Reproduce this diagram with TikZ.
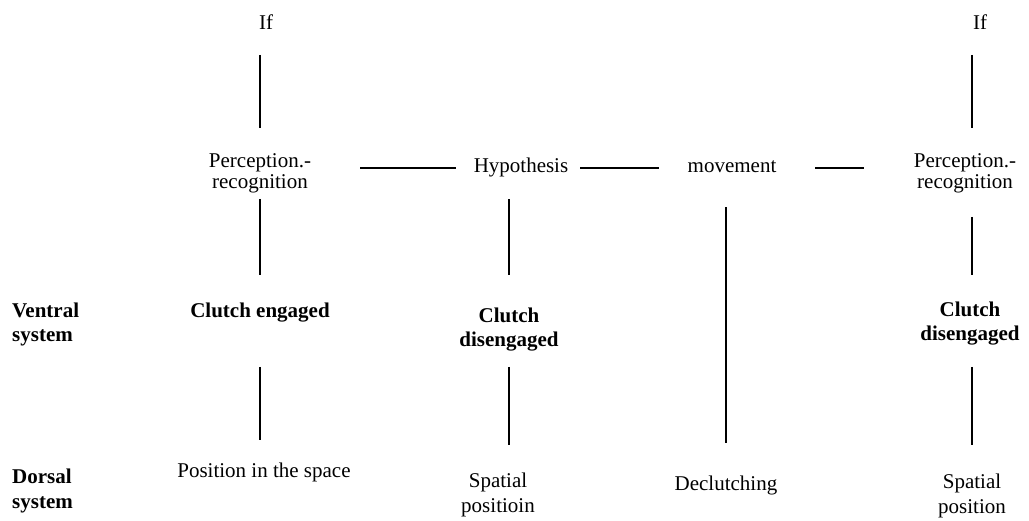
\documentclass[tikz,border=0pt]{standalone}
\usepackage{fontspec}
\setmainfont{Liberation Serif}
\begin{document}
\begin{tikzpicture}[x=1pt,y=-1pt,
  lbl/.style={anchor=base,inner sep=0pt,align=center,font=\fontsize{21}{25}\selectfont},
  tight/.style={font=\fontsize{21}{21}\selectfont},
  hd/.style={font=\fontsize{21}{24.5}\selectfont\bfseries},
  side/.style={lbl,align=left,anchor=base west},
  link/.style={line width=2pt}]
\useasboundingbox (0,0) rectangle (1029,521);

% top row
\node[lbl] (if1) at (266,30) {If};
\node[lbl] (if2) at (980,30) {If};

% middle chain (multi-line nodes sit on their last baseline)
\node[lbl,tight] (pr1) at (260,189) {Perception.-\\recognition};
\node[lbl] (hyp) at (521,173) {Hypothesis};
\node[lbl] (mov) at (732,173) {movement};
\node[lbl,tight] (pr2) at (965,189) {Perception.-\\recognition};

% ventral row
\node[side,hd] (ven) at (12,342) {Ventral\\system};
\node[lbl,hd] (ce) at (260,318) {Clutch engaged};
\node[lbl,hd] (cd1) at (509,347) {Clutch\\disengaged};
\node[lbl,hd] (cd2) at (970,341) {Clutch\\disengaged};

% dorsal row
\node[side,hd] (dor) at (12,508) {Dorsal\\system};
\node[lbl] (pos) at (264,478) {Position in the space};
\node[lbl] (sp1) at (498,512) {Spatial\\positioin};
\node[lbl] (decl) at (726,490) {Declutching};
\node[lbl] (sp2) at (972,513) {Spatial\\position};

% vertical links from the top
\draw[link,shorten <=25pt,shorten >=61pt] (if1.base -| pr1.base) -- (pr1.base);
\draw[link,shorten <=25pt,shorten >=61pt] (if2.base -| sp2.base) -- (pr2.base -| sp2.base);

% horizontal chain
\draw[link,shorten <=100pt,shorten >=65pt] ([yshift=3pt]hyp.mid -| pr1.base) -- ([yshift=3pt]hyp.mid);
\draw[link,shorten <=59pt,shorten >=73pt] ([yshift=3pt]hyp.mid) -- ([yshift=3pt]mov.mid);
\draw[link,shorten <=83pt,shorten >=101pt] ([yshift=3pt]mov.mid) -- ([yshift=3pt]mov.mid -| pr2.base);

% down to the ventral row
\draw[link,shorten <=10pt,shorten >=43pt] (pr1.base) -- (ce.base -| pr1.base);
\draw[link,shorten <=28.7pt,shorten >=72pt] (hyp.mid -| cd1.base) -- (cd1.base);
\draw[link,shorten <=36.7pt,shorten >=47pt] (mov.mid -| decl.base) -- (decl.base);
\draw[link,shorten <=28pt,shorten >=66pt] (pr2.base -| sp2.base) -- (cd2.base -| sp2.base);

% down to the dorsal row
\draw[link,shorten <=49pt,shorten >=38pt] (ce.base -| pr1.base) -- (pos.base -| pr1.base);
\draw[link,shorten <=20pt,shorten >=67pt] (cd1.base) -- (sp1.base -| cd1.base);
\draw[link,shorten <=26pt,shorten >=68pt] (cd2.base -| sp2.base) -- (sp2.base);
\end{tikzpicture}
\end{document}
